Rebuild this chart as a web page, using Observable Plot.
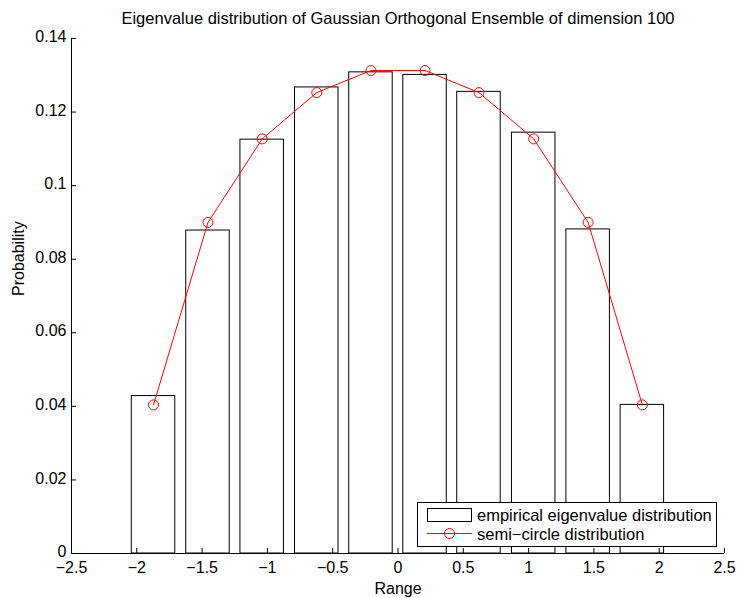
<!DOCTYPE html>
<html>
<head>
<meta charset="utf-8">
<script src="https://cdn.jsdelivr.net/npm/d3@7"></script>
<script src="https://cdn.jsdelivr.net/npm/@observablehq/plot@0.6"></script>
<style>
  html, body { margin: 0; padding: 0; background: #fff; }
  #chart { position: relative; width: 740px; height: 598px; }
</style>
</head>
<body>
<div id="chart"></div>
<script>
// ---- data ----
const binCenters = [-1.872, -1.455, -1.040, -0.622, -0.207, 0.207, 0.620, 1.039, 1.456, 1.871];
const empirical  = [0.0428, 0.0878, 0.1125, 0.1267, 0.1308, 0.1301, 0.1255, 0.1144, 0.0881, 0.0404];
const semicircle = [0.0404, 0.0900, 0.1127, 0.1253, 0.1313, 0.1313, 0.1253, 0.1127, 0.0900, 0.0404];
const barWidth = 0.333;
const xTicks = [-2.5, -2, -1.5, -1, -0.5, 0, 0.5, 1, 1.5, 2, 2.5];
const yTicks = [0, 0.02, 0.04, 0.06, 0.08, 0.1, 0.12, 0.14];
const titleText = "Eigenvalue distribution of Gaussian Orthogonal Ensemble of dimension 100";
const xLabel = "Range";
const yLabel = "Probability";
const legendLabels = ["empirical eigenvalue distribution", "semi\u2212circle distribution"];

const bars = binCenters.map((c, i) => ({c, h: empirical[i]}));
const curve = binCenters.map((c, i) => ({c, v: semicircle[i]}));

const W = 740, H = 598;
const mL = 71, mR = 16, mT = 38, mB = 45;
const fW = W - mL - mR, fH = H - mT - mB;
const font = "'Liberation Sans', Arial, Helvetica, sans-serif";
const FS = 16;
const fmt = d => (d < 0 ? "\u2212" : "") + String(Math.abs(d));

const chart = Plot.plot({
  width: W, height: H,
  marginLeft: mL, marginRight: mR, marginTop: mT, marginBottom: mB,
  x: {domain: [-2.5, 2.5]},
  y: {domain: [0, 0.14]},
  style: {fontFamily: font, fontSize: FS + "px", color: "black", background: "white"},
  marks: [
    Plot.rectY(bars, {x1: d => d.c - barWidth / 2, x2: d => d.c + barWidth / 2, y: "h",
      fill: "white", stroke: "black", strokeWidth: 1}),
    Plot.line(curve, {x: "c", y: "v", stroke: "red", strokeWidth: 1}),
    Plot.dot(curve, {x: "c", y: "v", r: 5, stroke: "red", fill: "none", strokeWidth: 1}),
    Plot.ruleY([0], {stroke: "black"}),
    Plot.ruleX([-2.5], {stroke: "black"}),
    Plot.tickX(xTicks, {x: d => d, insetTop: fH - 5, stroke: "black"}),
    Plot.tickY(yTicks, {y: d => d, insetRight: fW - 5, stroke: "black"}),
    Plot.axisX({ticks: xTicks, tickSize: 0, tickPadding: 8, tickFormat: fmt, fontSize: FS, label: null}),
    Plot.axisY({ticks: yTicks, tickSize: 0, tickPadding: 5, tickFormat: fmt, fontSize: FS, label: null, dy: -1.5}),
    Plot.text([xLabel], {text: d => d, frameAnchor: "bottom", dy: 35, fontSize: FS, lineAnchor: "middle"}),
    Plot.text([yLabel], {text: d => d, frameAnchor: "left", dx: -53, rotate: -90, fontSize: FS, lineAnchor: "middle"}),
    Plot.text([titleText], {text: d => d, frameAnchor: "top", dy: -20, fontSize: 16.5, lineAnchor: "middle"})
  ]
});
document.getElementById("chart").appendChild(chart);

// ---- legend (inside the plot, lower right) ----
const svg = d3.select(chart);
const lg = svg.append("g").attr("font-family", font).attr("font-size", 16.5).attr("text-anchor", "start");
lg.append("rect").attr("x", 417.5).attr("y", 502.5).attr("width", 299).attr("height", 44)
  .attr("fill", "white").attr("stroke", "black");
lg.append("rect").attr("x", 427.5).attr("y", 508.5).attr("width", 44).attr("height", 13)
  .attr("fill", "white").attr("stroke", "black");
lg.append("text").attr("x", 477).attr("y", 515).attr("dy", "0.35em").text(legendLabels[0]);
lg.append("line").attr("x1", 427).attr("x2", 472).attr("y1", 533.5).attr("y2", 533.5).attr("stroke", "red");
lg.append("circle").attr("cx", 449.5).attr("cy", 533.5).attr("r", 5).attr("fill", "none").attr("stroke", "red");
lg.append("text").attr("x", 477).attr("y", 534.5).attr("dy", "0.35em").text(legendLabels[1]);
</script>
</body>
</html>
